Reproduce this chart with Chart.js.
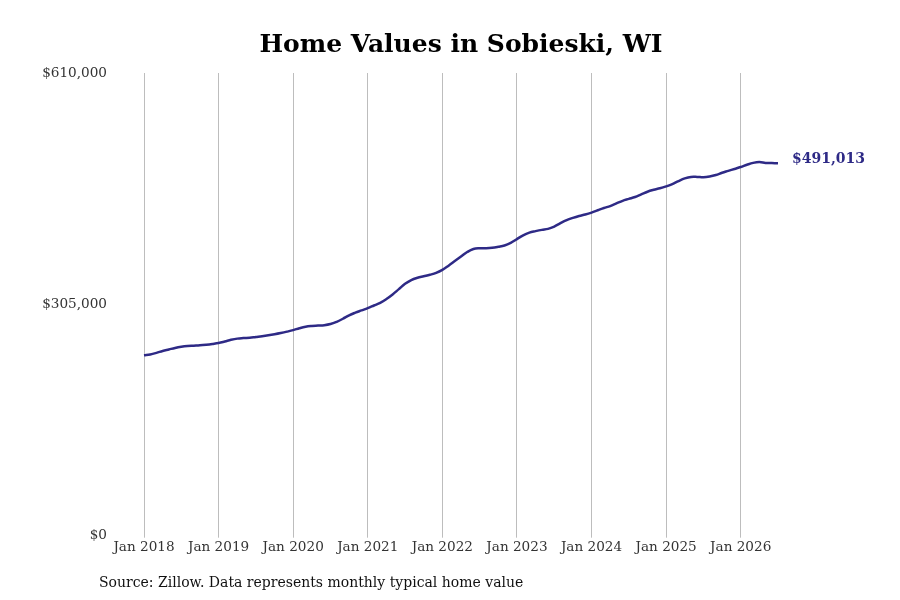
<!DOCTYPE html>
<html>
<head>
<meta charset="utf-8">
<script src="https://cdn.jsdelivr.net/npm/chart.js@4"></script>
<style>
  body { margin: 0; background: #fff; }
  #wrap { position: relative; width: 900px; height: 600px; }
  #title {
    position: absolute; left: 0; width: 922px; top: 29px; line-height: 30px;
    text-align: center; font: bold 25px "DejaVu Serif", serif; color: #000;
  }
  #note {
    position: absolute; left: 99px; top: 574px;
    font: 14px "DejaVu Serif", serif; color: #111;
  }
</style>
</head>
<body>
<div id="wrap">
  <canvas id="chart" width="900" height="600"></canvas>
  <div id="title">Home Values in Sobieski, WI</div>
  <div id="note">Source: Zillow. Data represents monthly typical home value</div>
</div>
<script>
// Meses y años del eje X
const months = ['Jan', 'Feb', 'Mar', 'Apr', 'May', 'Jun', 'Jul', 'Aug', 'Sep', 'Oct', 'Nov', 'Dec'];
const years = [2018, 2019, 2020, 2021, 2022, 2023, 2024, 2025, 2026];

// Valores mensuales por año
const values2018 = [238000, 239000, 241000, 243500, 245500, 247500, 249000, 250000, 250500, 251000, 251800, 252800];
const values2019 = [254000, 256000, 258200, 259800, 260500, 261000, 262000, 263000, 264200, 265600, 267200, 269000];
const values2020 = [271000, 273500, 275500, 276500, 277000, 277500, 279000, 282000, 286000, 290500, 294000, 297000];
const values2021 = [300000, 303500, 307000, 312000, 318000, 325000, 332000, 337000, 340000, 342000, 344000, 346500];
const values2022 = [350500, 356000, 362000, 368000, 374000, 378000, 379000, 379000, 379500, 380800, 382500, 386000];
const values2023 = [391000, 396000, 399500, 401500, 403200, 404500, 407500, 412000, 416000, 419000, 421500, 423500];
const values2024 = [426000, 429000, 432000, 434500, 438000, 441500, 444000, 446500, 450000, 453500, 456000, 458000];
const values2025 = [460500, 463500, 467500, 471000, 473000, 473000, 472500, 473500, 475500, 478500, 481000, 483500];
const values2026 = [486000, 489000, 491500, 492500, 491500, 491200, 491013];

const yTicks = [0, 305000, 610000];

const values = [].concat(values2018, values2019, values2020, values2021, values2022,
                         values2023, values2024, values2025, values2026);

const labels = [];
years.forEach(y => months.forEach(m => labels.push(`${m} ${y}`)));
labels.length = values.length;

const lineColor = '#2e2a86';
const fmt = v => '$' + v.toLocaleString('en-US');
const tickFont = { family: '"DejaVu Serif", serif', size: 13.6 };

// Etiqueta del último valor
const endLabel = {
    id: 'endLabel',
    afterDatasetsDraw(chart) {
        const meta = chart.getDatasetMeta(0);
        const pt = meta.data[meta.data.length - 1];
        const ctx = chart.ctx;
        ctx.save();
        ctx.font = 'bold 14px "DejaVu Serif", serif';
        ctx.fillStyle = lineColor;
        ctx.textBaseline = 'middle';
        ctx.fillText(fmt(values[values.length - 1]), pt.x + 14, pt.y - 4);
        ctx.restore();
    }
};

new Chart(document.getElementById('chart'), {
    type: 'line',
    data: {
        labels: labels,
        datasets: [{
            data: values,
            borderColor: lineColor,
            borderWidth: 2.5,
            pointRadius: 0,
            tension: 0.4,
            fill: false
        }]
    },
    options: {
        responsive: false,
        animation: false,
        layout: { padding: { top: 73, left: 30, right: 122, bottom: 42 } },
        plugins: {
            legend: { display: false },
            tooltip: { enabled: false },
            title: { display: false }
        },
        scales: {
            x: {
                offset: false,
                border: { display: false },
                grid: {
                    color: c => (labels[c.index] || '').startsWith('Jan') ? '#bdbdbd' : 'rgba(0,0,0,0)',
                    lineWidth: 1,
                    tickLength: 2
                },
                ticks: {
                    autoSkip: false,
                    maxRotation: 0,
                    padding: 2,
                    color: '#333',
                    font: tickFont,
                    callback: (v, i) => labels[i].startsWith('Jan') ? labels[i] : ''
                }
            },
            y: {
                min: yTicks[0],
                max: yTicks[yTicks.length - 1],
                border: { display: false },
                grid: { display: false },
                afterBuildTicks: s => { s.ticks = yTicks.map(v => ({ value: v })); },
                afterFit: s => { s.width = 114; },
                ticks: {
                    padding: 29,
                    color: '#333',
                    font: tickFont,
                    callback: v => fmt(v)
                }
            }
        }
    },
    plugins: [endLabel]
});
</script>
</body>
</html>
